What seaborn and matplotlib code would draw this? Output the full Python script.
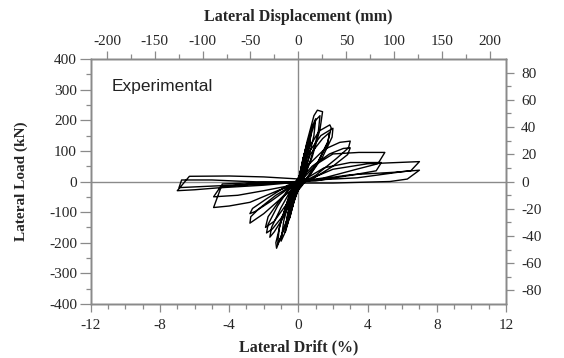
import numpy as np
import pandas as pd
import matplotlib
matplotlib.use("Agg")
from matplotlib import pyplot as plt
from matplotlib.ticker import MultipleLocator
import seaborn as sns

# hysteresis path (drift %, load kN), one cycle per row
drift = [0, 0.1, 0.2, 0.15, 0.0, -0.1, -0.2, -0.15, 0,
         0.2, 0.35, 0.3, 0.1, -0.1, -0.35, -0.3, -0.1, 0.02,
         0.25, 0.5, 0.42, 0.15, -0.1, -0.3, -0.5, -0.42, -0.15, 0.05,
         0.3, 0.5, 0.4, 0.1, -0.2, -0.5, -0.4, -0.1, 0.05,
         0.35, 0.6, 0.75, 0.65, 0.3, 0.0, -0.35, -0.75, -0.65, -0.3, 0.05,
         0.4, 0.75, 0.62, 0.25, -0.1, -0.5, -0.75, -0.6, -0.25, 0.1,
         0.5, 0.8, 1.0, 0.9, 0.5, 0.1, -0.4, -0.8, -1.0, -0.85, -0.4, 0.1,
         0.5, 0.9, 1.1, 1.4, 1.25, 0.8, 0.3, -0.2, -0.8, -1.26, -1.3, -1.0, -0.5, 0.15,
         0.6, 1.0, 1.25, 1.15, 0.7, 0.2, -0.4, -1.0, -1.2, -1.1, -0.6, 0.1,
         0.5, 1.2, 1.82, 1.9, 1.7, 1.1, 0.4, -0.3, -1.0, -1.5, -1.84, -1.75, -1.2, -0.5, 0.1,
         0.6, 1.3, 2.0, 1.95, 1.4, 0.6, -0.2, -0.9, -1.4, -1.65, -1.55, -1.0, -0.3, 0.2,
         0.7, 1.4, 1.8, 1.7, 1.1, 0.4, -0.5, -1.4, -1.9, -1.75, -1.0, -0.2,
         0.5, 1.5, 2.4, 3.0, 2.9, 2.2, 1.0, 0.0, -1.0, -2.0, -2.8, -2.75, -2.3, -1.3, 0.0,
         0.8, 1.8, 2.6, 3.0, 2.85, 2.0, 0.8, -0.5, -1.6, -2.5, -2.8, -2.65, -1.8, -0.6, 0.2,
         1.0, 2.0, 3.5, 5.0, 4.6, 3.5, 1.5, 0.0, -2.0, -4.4, -4.9, -4.0, -2.8, -1.2, 0.0,
         1.5, 3.0, 4.8, 4.5, 3.0, 1.0, -2.0, -4.5, -4.9, -3.5, -2.0, 0.0,
         2.0, 4.0, 7.0, 6.5, 6.0, 3.4, 1.0, -2.0, -4.0, -6.3, -7.0, -6.0, -4.7, -2.0, 0.0,
         3.0, 5.5, 7.0, 6.3, 5.3, 2.0, 0.0, -3.0, -5.0, -6.75, -6.9, -5.0, -2.0, 0.0]
load = [0, 30, 50, 30, 0, -25, -45, -25, 0,
        55, 90, 60, 15, -25, -85, -55, -10, 5,
        70, 125, 85, 20, -25, -75, -120, -80, -20, 10,
        80, 120, 80, 10, -45, -118, -75, -10, 10,
        90, 140, 170, 120, 35, -15, -85, -165, -115, -30, 15,
        100, 165, 110, 25, -30, -115, -160, -105, -20, 20,
        120, 180, 205, 150, 55, -10, -90, -170, -195, -130, -35, 25,
        130, 215, 233, 228, 170, 80, 10, -50, -150, -218, -200, -130, -40, 25,
        130, 200, 215, 160, 70, 0, -80, -180, -205, -150, -60, 20,
        100, 165, 185, 175, 130, 60, 0, -50, -120, -155, -168, -140, -80, -20, 15,
        95, 150, 174, 145, 80, 15, -35, -120, -165, -182, -150, -85, -15, 15,
        90, 140, 160, 125, 60, 5, -60, -130, -150, -115, -55, -5,
        50, 105, 128, 132, 110, 75, 20, -10, -55, -105, -136, -115, -90, -45, 0,
        50, 90, 108, 110, 88, 50, 8, -20, -65, -98, -105, -88, -55, -12, 5,
        55, 90, 95, 95, 58, 42, 12, 0, -3, -8, -85, -80, -68, -30, -5,
        45, 62, 62, 35, 20, 2, -5, -17, -50, -45, -30, -8,
        40, 58, 65, 35, 32, 12, 5, 15, 18, 17, -30, -27, -21, -12, -2,
        22, 30, 37, 8, 0, -5, -5, 0, 5, 5, -20, -15, -8, 0]

df = pd.DataFrame({"drift": drift, "load": load})

sns.set_style("ticks")
plt.rcParams['font.family'] = ['Liberation Serif', 'DejaVu Serif']
plt.rcParams['axes.unicode_minus'] = False
grey = '#8a8a8a'

fig = plt.figure(figsize=(5.64, 3.58), dpi=100)
ax = fig.add_axes([0.161, 0.151, 0.736, 0.684])

ax.axhline(0, color=grey, lw=1.0, zorder=1)
ax.axvline(0, color=grey, lw=1.0, zorder=1)
sns.lineplot(data=df, x="drift", y="load", sort=False, estimator=None,
             color='black', lw=1.0, ax=ax, zorder=3)

ax.set_xlim(-12, 12)
ax.set_ylim(-400, 400)
ax.xaxis.set_major_locator(MultipleLocator(4))
ax.xaxis.set_minor_locator(MultipleLocator(1))
ax.yaxis.set_major_locator(MultipleLocator(100))
ax.yaxis.set_minor_locator(MultipleLocator(50))
ax.set_xlabel('Lateral Drift (%)', fontsize=11.5, fontweight='bold', labelpad=5)
ax.set_ylabel('Lateral Load (kN)', fontsize=11, fontweight='bold', labelpad=15)

# top axis in mm, right axis in kips
mm_per_pct = 18.07
axt = ax.twiny()
axt.set_xlim(-12 * mm_per_pct, 12 * mm_per_pct)
axt.xaxis.set_major_locator(MultipleLocator(50))
axt.xaxis.set_minor_locator(MultipleLocator(25))
axt.set_xlabel('Lateral Displacement (mm)', fontsize=11.5, fontweight='bold', labelpad=10)

axr = ax.twinx()
axr.set_ylim(-400 / 4.448, 400 / 4.448)
axr.yaxis.set_major_locator(MultipleLocator(20))
axr.yaxis.set_minor_locator(MultipleLocator(10))

for a in (ax, axt, axr):
    for s in a.spines.values():
        s.set_color(grey)
        s.set_linewidth(1.0)
    a.tick_params(which='major', direction='out', length=6, width=0.9,
                  color=grey, labelsize=11, pad=2)
    a.tick_params(which='minor', direction='out', length=3.5, width=0.9, color=grey)
ax.tick_params(axis='y', which='major', length=8)
ax.tick_params(axis='x', which='major', pad=5)
axr.tick_params(axis='y', which='major', pad=5)

ax.text(0.05, 0.87, 'Experimental', transform=ax.transAxes,
        fontsize=12.5, family=['Liberation Sans', 'DejaVu Sans'], color='#222222')

fig.savefig('out.png', dpi=100)
